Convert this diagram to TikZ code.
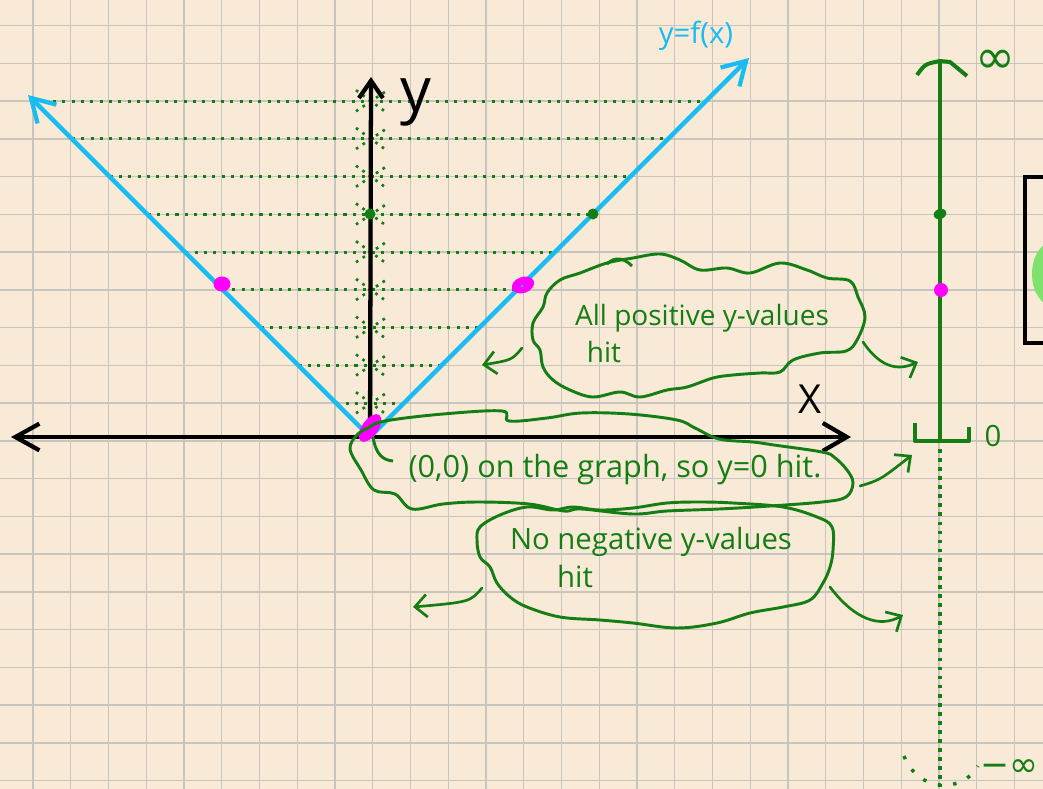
\documentclass[tikz,border=0pt]{standalone}
\usepackage{fontspec}
\setmainfont{Open Sans}
\newfontfamily\symf{DejaVu Sans}
\usetikzlibrary{arrows.meta,calc}
\definecolor{paper}{RGB}{248,234,214}
\definecolor{gridc}{RGB}{200,196,190}
\definecolor{pen}{RGB}{20,125,20}
\definecolor{sky}{RGB}{25,188,240}
\definecolor{mag}{RGB}{255,0,255}
\definecolor{lgreen}{RGB}{128,226,110}
\begin{document}
\begin{tikzpicture}[x=0.75pt,y=-0.75pt,
  gridline/.style={gridc, line width=1.1pt},
  axisline/.style={black, line width=3.2pt, line join=round},
  graphline/.style={sky, line width=3.2pt, line join=round},
  levelline/.style={pen, line width=2.3pt, dash pattern=on 2.3pt off 4.7pt},
  sparkle/.style={pen, line width=2pt, dash pattern=on 2pt off 4pt},
  cloudline/.style={pen, line width=2.2pt, line join=round},
  harrow/.style={pen, line width=2pt, line cap=round, -{Straight Barb[length=9pt,width=17pt]}},
  rangeline/.style={pen, line width=3pt, line join=round},
  handtext/.style={pen, inner sep=0pt},
]
\useasboundingbox (0,0) rectangle (1043,789);
\fill[paper] (0,0) rectangle (1043,789);
% grid
\foreach \k in {0,...,27} {\draw[gridline] ({33+37.75*\k},0) -- ({33+37.75*\k},789);}
\foreach \k in {0,...,20} {\draw[gridline] (0,{25.7+37.75*\k}) -- (1043,{25.7+37.75*\k});}

% key points
\coordinate (V) at (370,437);
\coordinate (L) at (28,95);
\coordinate (R) at (749,58);

% dotted level lines
\foreach \k in {2,...,10} {
  \pgfmathsetmacro{\yy}{25.7+37.75*\k}
  \pgfmathsetmacro{\dd}{437-\yy}
  \draw[levelline] ({370-\dd},\yy) -- ({370+\dd},\yy);
  \draw[sparkle] (356,{\yy-11}) -- (386,{\yy+11});
  \draw[sparkle] (356,{\yy+10}) -- (386,{\yy-10});
}

% axes
\coordinate (XL) at (11,437);
\coordinate (XR) at (851,437);
\coordinate (YT) at (371,77);
\draw[axisline, {Straight Barb[length=18pt,width=20pt]}-{Straight Barb[length=18pt,width=21pt]}] (XL) -- (XR);
\draw[axisline, -{Straight Barb[length=13pt,width=18pt]}] (V) -- (YT);

% graph of y=f(x)
\draw[graphline, {Straight Barb[length=17pt,width=20pt]}-{Straight Barb[length=17pt,width=20pt]}] (L) -- (V) -- (R);

% points
\fill[pen] (370,214) circle[radius=5.5];
\fill[pen] (593,214) circle[radius=5.5];
\fill[mag] (222,284) ellipse[x radius=8.5, y radius=7.5];
\fill[mag, rotate around={20:(523,285)}] (523,285) ellipse[x radius=11.5, y radius=8];
\fill[sky] (522,286) circle[radius=1.5];
\fill[mag, rotate around={55:(370,428)}] (370,428) ellipse[x radius=16, y radius=8];

% labels
\node[black, inner sep=0pt, font=\fontsize{46}{46}\selectfont] (ylab) at (416,102) {y};
\node[black, inner sep=0pt, font=\fontsize{30}{30}\selectfont] (xlab) at (810,399) {X};
\node[sky, inner sep=0pt, font=\fontsize{22}{22}\selectfont] (flab) at (696,36) {y=f(x)};

% range line
\coordinate (RT) at (940,61);
\coordinate (RB) at (940,441);
\draw[rangeline] (RT) -- (RB);
\draw[rangeline] (917,75) .. controls (925,64) .. (RT) -- (950,62) -- (967,76);
\draw[rangeline] (915,423) -- (915,441) -- (969,441) -- (969,427);
\draw[pen, line width=3pt, dash pattern=on 2.8pt off 4pt] (940,449) -- (940,787);
\draw[pen, line width=2.6pt, dash pattern=on 2.6pt off 9pt] (904,756) .. controls (918,792) and (962,794) .. (978,766);
\fill[pen, rotate around={20:(940,214)}] (940,214) ellipse[x radius=6.5, y radius=5];
\fill[mag] (941,290) circle[radius=7];
\node[pen, inner sep=0pt, font=\symf\fontsize{36}{36}\selectfont] (inf) at (995,62) {∞};
\node[pen, inner sep=0pt, font=\fontsize{22}{22}\selectfont] (zero) at (993,436) {0};
\node[pen, inner sep=0pt, anchor=east, font=\symf\fontsize{26}{26}\selectfont] (minf) at (1039,768) {−∞};

% partial box at right edge
\fill[lgreen] (1053,274) ellipse[x radius=21, y radius=32];
\draw[black, line width=2.7pt] (1060,177) -- (1025,177) -- (1025,343) -- (1060,343);

% cloud 1
\draw[cloudline] plot[smooth cycle, tension=0.6] coordinates {
 (633,258) (660,254) (680,260) (700,270) (727,268) (750,273) (780,263) (807,270)
 (827,278) (850,281) (858,297) (865,317) (857,340) (846,351) (820,353) (793,360)
 (780,372) (760,373) (733,375) (713,378) (687,387) (667,390) (640,397) (620,392)
 (593,397) (570,390) (553,380) (543,367) (540,350) (533,340) (533,323) (543,307)
 (547,293) (560,280) (580,273) (607,263)};
\draw[cloudline] (607,264) .. controls (615,256) and (624,258) .. (632,266);
\node[handtext, font=\fontsize{21}{21}\selectfont] (t1a) at (702,318) {All positive y-values};
\node[handtext, font=\fontsize{21}{21}\selectfont] (t1b) at (604,352) {hit};

% cloud 2
\draw[cloudline] plot[smooth cycle, tension=0.6] coordinates {
 (385,421) (443,414) (502,411) (509,421) (547,418) (581,413) (629,414) (677,420)
 (695,428) (719,439) (753,442) (774,445) (822,452) (834,457) (847,470) (853,483)
 (846,497) (822,502) (770,506) (719,509) (667,511) (633,514) (581,509) (564,511)
 (529,504) (478,502) (443,504) (412,509) (395,494) (374,490) (361,470) (350,449)
 (357,435) (368,428)};
\draw[cloudline] (373,437) .. controls (376,455) and (383,460) .. (393,461);
\node[handtext, font=\fontsize{23}{23}\selectfont] (t2) at (615,470) {(0,0) on the graph, so y=0 hit.};

% cloud 3
\draw[cloudline] plot[smooth cycle, tension=0.6] coordinates {
 (480,527) (500,515) (527,507) (553,510) (573,507) (600,510) (633,508) (667,503)
 (700,502) (733,503) (783,507) (817,517) (832,527) (833,550) (830,567) (823,583)
 (810,600) (783,607) (750,613) (717,623) (677,628) (633,623) (600,620) (560,617)
 (527,607) (510,597) (497,583) (490,567) (480,557) (477,540)};
\node[handtext, font=\fontsize{22}{22}\selectfont] (t3a) at (651,542) {No negative y-values};
\node[handtext, font=\fontsize{22}{22}\selectfont] (t3b) at (575,576) {hit};

% pointer arrows
\coordinate (a1s) at (522,348); \coordinate (a1e) at (482,365);
\draw[harrow] (a1s) .. controls (512,360) .. (a1e);
\coordinate (a2s) at (863,342); \coordinate (a2e) at (918,362);
\draw[harrow] (a2s) .. controls (882,370) and (900,370) .. (a2e);
\coordinate (a3s) at (860,486); \coordinate (a3e) at (912,455);
\draw[harrow] (a3s) .. controls (880,480) .. (a3e);
\coordinate (a4s) at (482,588); \coordinate (a4e) at (413,607);
\draw[harrow] (a4s) .. controls (470,602) .. (a4e);
\coordinate (a5s) at (830,587); \coordinate (a5e) at (903,615);
\draw[harrow] (a5s) .. controls (855,620) and (880,628) .. (a5e);
\end{tikzpicture}
\end{document}
